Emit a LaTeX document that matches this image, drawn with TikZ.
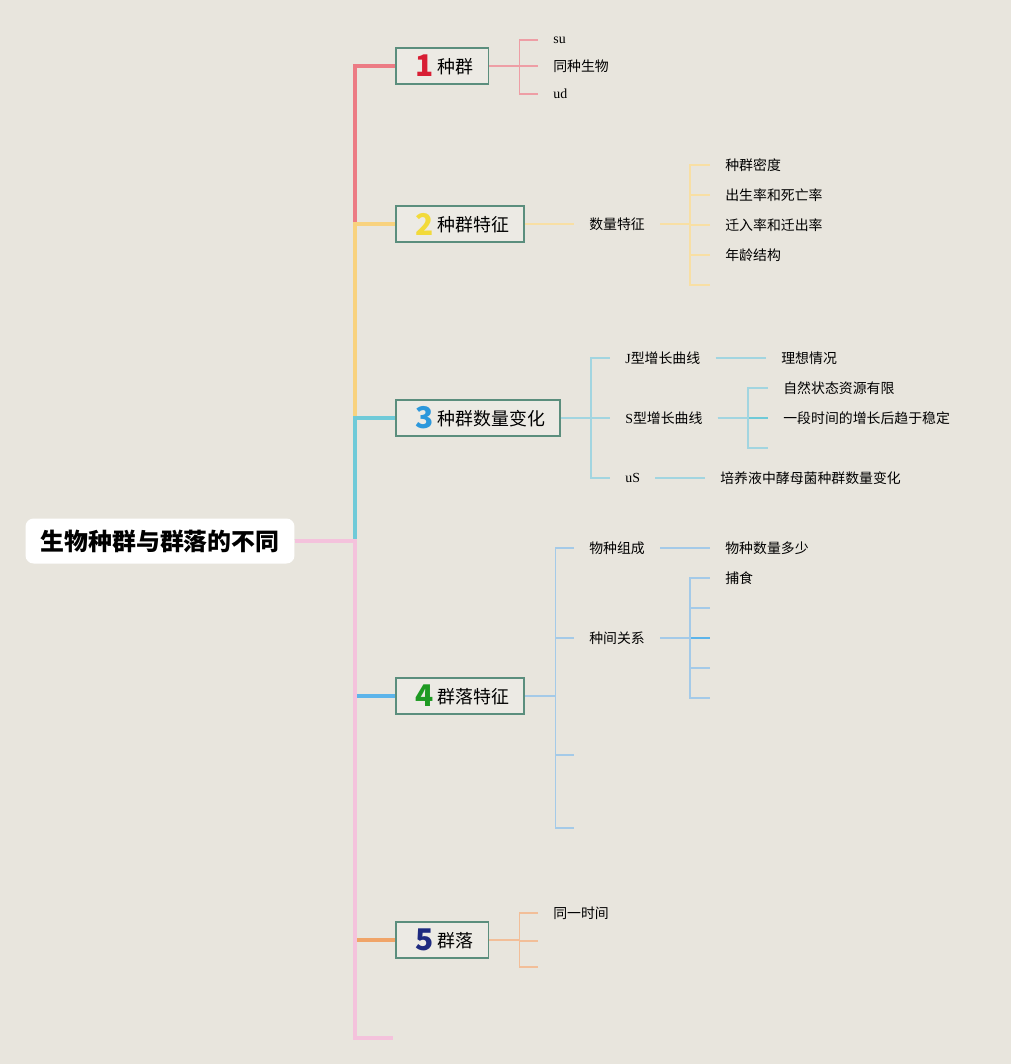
\documentclass[tikz,border=0pt]{standalone}
\usepackage{fontspec}
\setmainfont{Noto Sans CJK SC}
\newfontfamily\latf{Liberation Serif}
\usetikzlibrary{positioning}
\definecolor{bg}{HTML}{E8E5DD}
\definecolor{boxline}{HTML}{5B8E7D}
\definecolor{boxfill}{HTML}{ECEAE4}
\definecolor{cred}{HTML}{EC7B84}
\definecolor{cyel}{HTML}{F8D27E}
\definecolor{ccya}{HTML}{6FCAD8}
\definecolor{cblu}{HTML}{5CB4EA}
\definecolor{cora}{HTML}{F0A468}
\definecolor{cpnk}{HTML}{F4C2DC}
\definecolor{lred}{HTML}{EE9EA5}
\definecolor{lyel}{HTML}{F8DFA4}
\definecolor{lcya}{HTML}{A2D5E0}
\definecolor{lblu}{HTML}{A4CAE8}
\definecolor{lora}{HTML}{F2BE98}
\definecolor{n1}{HTML}{D81E34}
\definecolor{n2}{HTML}{F2DA3A}
\definecolor{n3}{HTML}{2C98DC}
\definecolor{n4}{HTML}{1E9A22}
\definecolor{n5}{HTML}{1E2A80}
\newcommand{\lat}[1]{{\latf #1}}
\newcommand{\num}[2]{\hspace{0.1cm}\raisebox{-2pt}{\color{#1}\fontsize{17}{17}\selectfont\bfseries #2}\hspace{0.07cm}}

\begin{document}
\begin{tikzpicture}[x=0.02cm,y=-0.02cm,
  topic/.style={draw=boxline,line width=1.1pt,fill=boxfill,anchor=west,minimum height=0.72cm,inner xsep=0.3cm,inner ysep=0pt,font=\fontsize{10.2}{12}\selectfont},
  leaf/.style={anchor=west,inner xsep=0.3cm,inner ysep=2pt,font=\fontsize{7.9}{9}\selectfont},
  trunk/.style={line width=2.3pt},
  twig/.style={line width=0.85pt}]
\useasboundingbox (0,0) rectangle (1011,1064);
\fill[bg] (0,0) rectangle (1011,1064);

% root and main topics
\node[fill=white,rounded corners=0.16cm,minimum height=0.9cm,inner xsep=0.3cm,font=\fontsize{13.6}{15}\selectfont\bfseries] (root) at (160,541) {生物种群与群落的不同};
\coordinate (hub) at (355,541);
\node[topic] (t1) at (395,66) {\num{n1}{1}种群};
\node[topic] (t2) at (395,224) {\num{n2}{2}种群特征};
\node[topic] (t3) at (395,418) {\num{n3}{3}种群数量变化};
\node[topic] (t4) at (395,696) {\num{n4}{4}群落特征};
\node[topic] (t5) at (395,940) {\num{n5}{5}群落};
\coordinate (t6) at (393,1038);

% trunk
\draw[trunk,cred] (root.east) -- (hub) |- (t1.west);
\draw[trunk,cyel] (root.east) -- (hub) |- (t2.west);
\draw[trunk,ccya] (root.east) -- (hub) |- (t3.west);
\draw[trunk,cblu] (root.east) -- (hub) |- (t4.west);
\draw[trunk,cora] (root.east) -- (hub) |- (t5.west);
\draw[trunk,cpnk] (root.east) -- (hub) |- (t6);

% 1
\node[leaf] (a1) at (538,40) {\lat{su}};
\node[leaf] (a2) at (538,66) {同种生物};
\node[leaf] (a3) at (538,94) {\lat{ud}};
\draw[twig,lred] (t1.east) -- ++(30,0) |- (a1.west);
\draw[twig,lred] (t1.east) -- ++(30,0) |- (a2.west);
\draw[twig,lred] (t1.east) -- ++(30,0) |- (a3.west);

% 2
\node[leaf] (b) at (574,224) {数量特征};
\draw[twig,lyel] (t2.east) -- (b.west);
\node[leaf] (b1) at (710,165) {种群密度};
\node[leaf] (b2) at (710,195) {出生率和死亡率};
\node[leaf] (b3) at (710,225) {迁入率和迁出率};
\node[leaf] (b4) at (710,255) {年龄结构};
\coordinate (b5) at (710,285);
\draw[twig,lyel] (b.east) -- ++(30,0) |- (b1.west);
\draw[twig,lyel] (b.east) -- ++(30,0) |- (b2.west);
\draw[twig,lyel] (b.east) -- ++(30,0) |- (b3.west);
\draw[twig,lyel] (b.east) -- ++(30,0) |- (b4.west);
\draw[twig,lyel] (b.east) -- ++(30,0) |- (b5);

% 3
\node[leaf] (c1) at (610,358) {\lat{J}型增长曲线};
\node[leaf] (c2) at (610,418) {\lat{S}型增长曲线};
\node[leaf] (c3) at (610,478) {\lat{uS}};
\draw[twig,lcya] (t3.east) -- ++(30,0) |- (c1.west);
\draw[twig,lcya] (t3.east) -- ++(30,0) |- (c2.west);
\draw[twig,lcya] (t3.east) -- ++(30,0) |- (c3.west);
\node[leaf] (c11) at (766,358) {理想情况};
\draw[twig,lcya] (c1.east) -- (c11.west);
\node[leaf] (c21) at (768,388) {自然状态资源有限};
\node[leaf] (c22) at (768,418) {一段时间的增长后趋于稳定};
\coordinate (c23) at (768,448);
\draw[twig,lcya] (c2.east) -- ++(30,0) |- (c21.west);
\draw[twig,ccya] (c2.east) -- ++(30,0) |- (c22.west);
\draw[twig,lcya] (c2.east) -- ++(30,0) |- (c23);
\node[leaf] (c31) at (705,478) {培养液中酵母菌种群数量变化};
\draw[twig,lcya] (c3.east) -- (c31.west);

% 4
\node[leaf] (d1) at (574,548) {物种组成};
\node[leaf] (d2) at (574,638) {种间关系};
\coordinate (d3) at (574,755);
\coordinate (d4) at (574,828);
\draw[twig,lblu] (t4.east) -- ++(30,0) |- (d1.west);
\draw[twig,lblu] (t4.east) -- ++(30,0) |- (d2.west);
\draw[twig,lblu] (t4.east) -- ++(30,0) |- (d3);
\draw[twig,lblu] (t4.east) -- ++(30,0) |- (d4);
\node[leaf] (d11) at (710,548) {物种数量多少};
\draw[twig,lblu] (d1.east) -- (d11.west);
\node[leaf] (d21) at (710,578) {捕食};
\coordinate (d22) at (710,608);
\coordinate (d23) at (710,638);
\coordinate (d24) at (710,668);
\coordinate (d25) at (710,698);
\draw[twig,lblu] (d2.east) -- ++(30,0) |- (d21.west);
\draw[twig,lblu] (d2.east) -- ++(30,0) |- (d22);
\draw[twig,cblu] (d2.east) -- ++(30,0) |- (d23);
\draw[twig,lblu] (d2.east) -- ++(30,0) |- (d24);
\draw[twig,lblu] (d2.east) -- ++(30,0) |- (d25);

% 5
\node[leaf] (e1) at (538,913) {同一时间};
\coordinate (e2) at (538,941);
\coordinate (e3) at (538,967);
\draw[twig,lora] (t5.east) -- ++(30,0) |- (e1.west);
\draw[twig,lora] (t5.east) -- ++(30,0) |- (e2);
\draw[twig,lora] (t5.east) -- ++(30,0) |- (e3);
\end{tikzpicture}
\end{document}
